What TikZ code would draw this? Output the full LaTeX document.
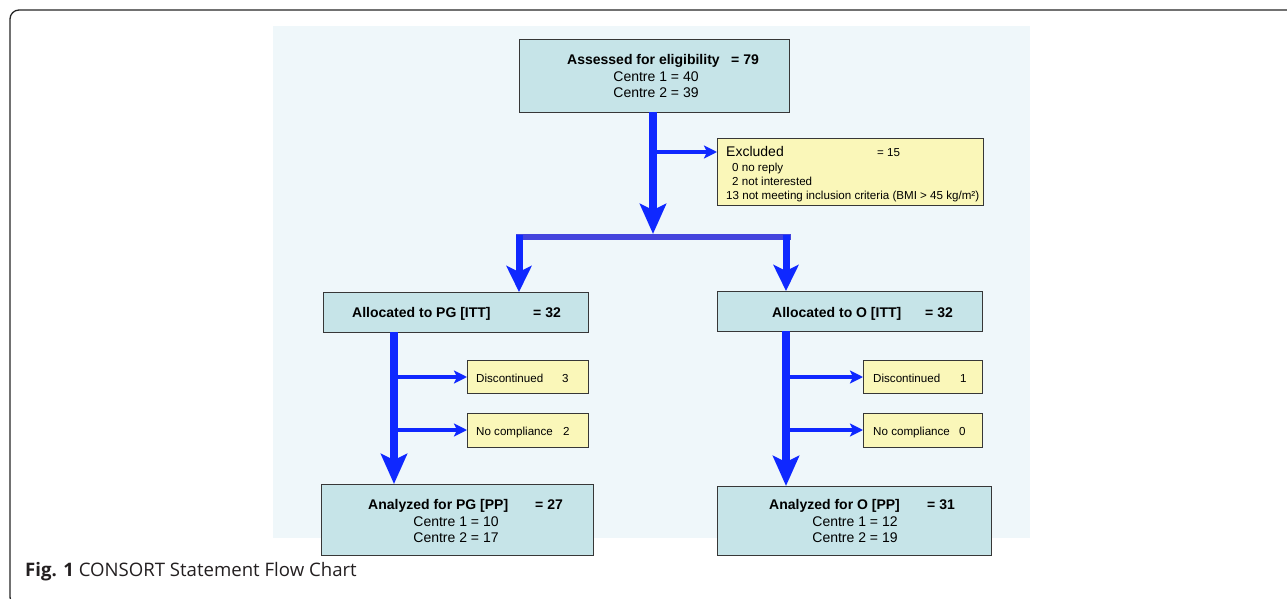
\documentclass[tikz,border=0pt]{standalone}
\usepackage{fontspec}
\setmainfont{Liberation Sans}
\newfontfamily\capfont{Open Sans}
\usetikzlibrary{arrows.meta}
\definecolor{panel}{RGB}{239,247,250}
\definecolor{tealbox}{RGB}{198,228,232}
\definecolor{yelbox}{RGB}{250,247,185}
\definecolor{arrowblue}{RGB}{15,40,255}
\definecolor{barblue}{RGB}{68,68,221}
\definecolor{edgegray}{RGB}{55,55,55}
\definecolor{captext}{RGB}{35,31,32}
\tikzset{
  box/.style={draw=edgegray, line width=1.1pt, inner sep=0pt, anchor=north west},
  tbox/.style={box, fill=tealbox},
  ybox/.style={box, fill=yelbox},
  txt/.style={anchor=base west, inner sep=0pt, font=\fontsize{14}{16}\selectfont},
  btxt/.style={txt, font=\fontsize{14}{16}\selectfont\bfseries},
  stxt/.style={txt, font=\fontsize{11.6}{13}\selectfont},
  ctxt/.style={anchor=base, inner sep=0pt, font=\fontsize{14}{16}\selectfont},
  bigarrow/.style={draw=arrowblue, line width=8pt, -{Stealth[length=30pt, width=26pt, inset=6pt]}},
  midarrow/.style={draw=arrowblue, line width=7pt, -{Stealth[length=26pt, width=25pt, inset=6pt]}},
  smallarrow/.style={draw=arrowblue, line width=4pt, -{Stealth[length=13pt, width=13pt, inset=3pt]}},
}
\begin{document}
\begin{tikzpicture}[x=1pt, y=-1pt]
\clip (0,0) rectangle (1287,599);
\fill[white] (0,0) rectangle (1287,599);
% outer frame
\draw[draw=black!85, line width=1.3pt, rounded corners=9pt] (10,10) rectangle (1320,606);
% panel
\fill[panel] (273,26) rectangle (1030,538);

% boxes
\node[tbox, minimum width=270pt, minimum height=73pt] (assess) at (519,39) {};
\node[ybox, minimum width=266pt, minimum height=67pt] (excl) at (717,138) {};
\node[tbox, minimum width=265pt, minimum height=40pt] (allocL) at (323,292) {};
\node[tbox, minimum width=265pt, minimum height=40pt] (allocR) at (717,291) {};
\node[ybox, minimum width=121pt, minimum height=33pt] (discL) at (467,360) {};
\node[ybox, minimum width=121pt, minimum height=34pt] (ncL) at (467,413) {};
\node[ybox, minimum width=119pt, minimum height=33pt] (discR) at (863,360) {};
\node[ybox, minimum width=119pt, minimum height=34pt] (ncR) at (863,413) {};
\node[tbox, minimum width=272pt, minimum height=71pt] (anaL) at (321,484) {};
\node[tbox, minimum width=274pt, minimum height=69pt] (anaR) at (717,486) {};

% texts: assessed
\node[btxt] (t1) at (567,65) {Assessed for eligibility};
\node[btxt] (t1b) at (731,65) {= 79};
\node[ctxt] (t2) at (656,82) {Centre 1 = 40};
\node[ctxt] (t3) at (656,98) {Centre 2 = 39};
% excluded
\node[txt] (e1) at (726,157) {Excluded};
\node[stxt] (e1b) at (877,157) {= 15};
\node[stxt] (e2) at (732,171) {0 no reply};
\node[stxt] (e3) at (732,185) {2 not interested};
\node[stxt] (e4) at (726,199) {13 not meeting inclusion criteria (BMI > 45 kg/m²)};
% allocated
\node[btxt] (a1) at (352,317) {Allocated to PG [ITT]};
\node[btxt] (a1b) at (533,317) {= 32};
\node[btxt] (a2) at (772,317) {Allocated to O [ITT]};
\node[btxt] (a2b) at (925,317) {= 32};
% discontinued / compliance
\node[stxt] (d1) at (476,382) {Discontinued};
\node[stxt] (d1n) at (562,382) {3};
\node[stxt] (n1) at (476,435) {No compliance};
\node[stxt] (n1n) at (563,435) {2};
\node[stxt] (d2) at (873,382) {Discontinued};
\node[stxt] (d2n) at (960,382) {1};
\node[stxt] (n2) at (873,435) {No compliance};
\node[stxt] (n2n) at (959,435) {0};
% analyzed
\node[btxt] (p1) at (368,509) {Analyzed for PG [PP]};
\node[btxt] (p1b) at (535,509) {= 27};
\node[ctxt] (p2) at (456,526) {Centre 1 = 10};
\node[ctxt] (p3) at (456,542) {Centre 2 = 17};
\node[btxt] (q1) at (769,509) {Analyzed for O [PP]};
\node[btxt] (q1b) at (927,509) {= 31};
\node[ctxt] (q2) at (855,526) {Centre 1 = 12};
\node[ctxt] (q3) at (855,542) {Centre 2 = 19};

% connector coordinates
\coordinate (mainTop) at (653,112);
\coordinate (mainTip) at (653,234);
\coordinate (exclBranch) at (653,152);
\coordinate (barL) at (516,237);
\coordinate (barR) at (791,237);
\coordinate (splitL) at (519,235);
\coordinate (splitR) at (786,235);
\coordinate (lTop) at (394,332);
\coordinate (rTop) at (786,331);
\coordinate (lB1) at (394,377);
\coordinate (lB2) at (394,430);
\coordinate (rB1) at (786,377);
\coordinate (rB2) at (786,430);

% connectors
\draw[bigarrow] (mainTop) -- (mainTip);
\draw[smallarrow] (exclBranch) -- (excl.west |- exclBranch);
\draw[draw=barblue, line width=6pt] (barL) -- (barR);
\draw[midarrow] (splitL) -- (allocL.north -| splitL);
\draw[midarrow] (splitR) -- (allocR.north -| splitR);
\draw[bigarrow] (lTop) -- (anaL.north -| lTop);
\draw[bigarrow] (rTop) -- (anaR.north -| rTop);
\draw[smallarrow] (lB1) -- (discL.west |- lB1);
\draw[smallarrow] (lB2) -- (ncL.west |- lB2);
\draw[smallarrow] (rB1) -- (discR.west |- rB1);
\draw[smallarrow] (rB2) -- (ncR.west |- rB2);

% caption
\node[anchor=base west, inner sep=0pt, text=captext, font=\capfont\fontsize{18.6}{22}\selectfont] (cap) at (25,576) {\textbf{Fig. 1} CONSORT Statement Flow Chart};
\end{tikzpicture}
\end{document}
